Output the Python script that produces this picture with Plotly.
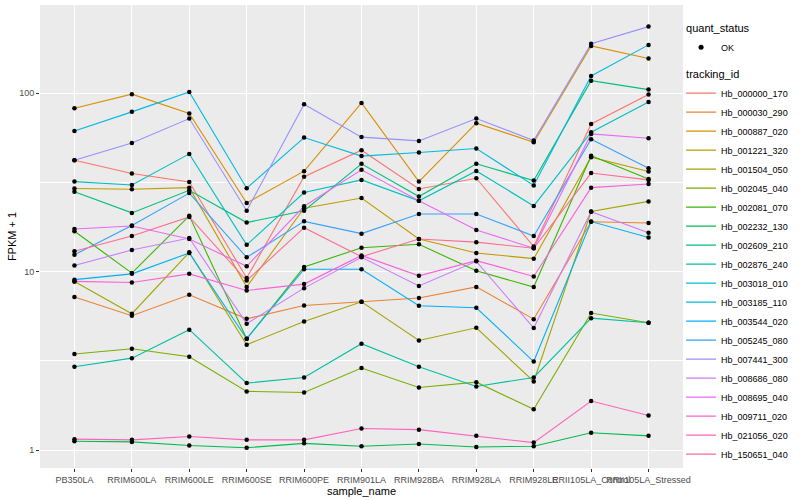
import plotly.graph_objects as go

samples = ["PB350LA", "RRIM600LA", "RRIM600LE", "RRIM600SE", "RRIM600PE", "RRIM901LA",
           "RRIM928BA", "RRIM928LA", "RRIM928LE", "RRII105LA_Control", "RRII105LA_Stressed"]

tracking_ids = ["Hb_000000_170", "Hb_000030_290", "Hb_000887_020", "Hb_001221_320", "Hb_001504_050",
                "Hb_002045_040", "Hb_002081_070", "Hb_002232_130", "Hb_002609_210", "Hb_002876_240",
                "Hb_003018_010", "Hb_003185_110", "Hb_003544_020", "Hb_005245_080", "Hb_007441_300",
                "Hb_008686_080", "Hb_008695_040", "Hb_009711_020", "Hb_021056_020", "Hb_150651_040"]

# FPKM + 1 values per tracking id, in sample order
hb_000000_170 = [42.0, 35.4, 31.7, 9.2, 34.0, 47.8, 29.0, 33.3, 13.8, 67.1, 98.0]
hb_000030_290 = [7.2, 5.65, 7.4, 5.43, 6.45, 6.77, 7.1, 8.2, 5.41, 19.0, 18.7]
hb_000887_020 = [82.2, 98.5, 76.7, 24.2, 36.5, 88.0, 31.9, 67.8, 53.0, 183.6, 156.0]
hb_001221_320 = [29.2, 28.9, 29.5, 8.2, 22.6, 25.8, 15.2, 12.7, 11.8, 43.7, 36.3]
hb_001504_050 = [8.8, 5.8, 12.8, 3.89, 5.25, 6.77, 4.11, 4.84, 2.42, 21.7, 24.7]
hb_002045_040 = [3.45, 3.69, 3.33, 2.13, 2.10, 2.88, 2.24, 2.40, 1.69, 5.85, 5.16]
hb_002081_070 = [16.8, 9.8, 20.5, 4.2, 10.6, 13.6, 14.2, 10.1, 8.18, 44.5, 33.0]
hb_002232_130 = [1.12, 1.11, 1.06, 1.03, 1.09, 1.05, 1.08, 1.04, 1.05, 1.25, 1.20]
hb_002609_210 = [28.0, 21.3, 28.5, 18.8, 21.9, 40.1, 26.3, 40.1, 32.3, 117.3, 104.5]
hb_002876_240 = [2.93, 3.27, 4.72, 2.37, 2.55, 3.94, 2.93, 2.27, 2.55, 5.48, 5.16]
hb_003018_010 = [31.9, 30.5, 45.6, 14.1, 27.7, 32.6, 24.9, 36.6, 23.3, 60.3, 89.1]
hb_003185_110 = [61.3, 78.4, 101.4, 29.3, 56.3, 44.3, 46.4, 48.9, 30.3, 124.6, 186.0]
hb_003544_020 = [9.0, 9.7, 12.7, 4.2, 10.3, 10.3, 6.43, 6.26, 3.13, 19.05, 15.5]
hb_005245_080 = [12.4, 18.1, 27.5, 12.0, 19.1, 16.3, 21.0, 21.0, 15.8, 55.1, 37.9]
hb_007441_300 = [42.0, 52.4, 71.9, 21.9, 86.5, 56.6, 53.9, 71.9, 54.2, 189.0, 235.5]
hb_008686_080 = [10.8, 13.2, 15.4, 5.1, 8.07, 12.0, 8.3, 11.4, 4.82, 21.6, 16.5]
hb_008695_040 = [17.3, 18.0, 15.2, 10.7, 23.2, 37.1, 24.9, 17.1, 13.5, 59.0, 55.8]
hb_009711_020 = [8.8, 8.68, 9.7, 7.83, 8.5, 12.3, 9.46, 11.5, 9.38, 29.5, 30.9]
hb_021056_020 = [1.15, 1.14, 1.19, 1.14, 1.14, 1.32, 1.30, 1.20, 1.10, 1.88, 1.56]
hb_150651_040 = [13.0, 15.8, 20.2, 8.9, 17.6, 12.1, 15.2, 14.6, 13.5, 35.6, 32.6]

series_values = [hb_000000_170, hb_000030_290, hb_000887_020, hb_001221_320, hb_001504_050,
                 hb_002045_040, hb_002081_070, hb_002232_130, hb_002609_210, hb_002876_240,
                 hb_003018_010, hb_003185_110, hb_003544_020, hb_005245_080, hb_007441_300,
                 hb_008686_080, hb_008695_040, hb_009711_020, hb_021056_020, hb_150651_040]

colors = ["#F8766D", "#EA8331", "#D89000", "#C09B00", "#A3A500", "#7CAE00", "#39B600", "#00BB4E",
          "#00BF7D", "#00C1A3", "#00BFC4", "#00BAE0", "#00B0F6", "#35A2FF", "#9590FF", "#C77CFF",
          "#E76BF3", "#FA62DB", "#FF62BC", "#FF6C91"]

y_ticks = [1, 10, 100]
y_tick_labels = ["1", "10", "100"]
y_minor = [10 ** 0.5, 10 ** 1.5, 10 ** 2.5]

FONT = "Liberation Sans, Arial, sans-serif"

fig = go.Figure()

# legend entry for quant_status
fig.add_trace(go.Scatter(x=[None], y=[None], mode="markers", name="OK",
                         marker=dict(color="black", size=5),
                         legendgroup="qs", legendgrouptitle=dict(text="quant_status")))

for i, (tid, vals, col) in enumerate(zip(tracking_ids, series_values, colors)):
    fig.add_trace(go.Scatter(
        x=samples, y=vals, mode="lines", name=tid,
        line=dict(color=col, width=1.1),
        legendgroup="tid",
        legendgrouptitle=dict(text="tracking_id") if i == 0 else None,
        hoverinfo="x+y+name"))

all_x = [s for _ in series_values for s in samples]
all_y = [v for vals in series_values for v in vals]
fig.add_trace(go.Scatter(x=all_x, y=all_y, mode="markers", showlegend=False,
                         marker=dict(color="black", size=4.5)))

fig.update_layout(
    width=800, height=500,
    margin=dict(l=40, r=117, t=5, b=32, autoexpand=False),
    paper_bgcolor="white", plot_bgcolor="#EBEBEB",
    font=dict(family=FONT, size=9, color="#4D4D4D"),
    legend=dict(x=0.997, y=0.49, xanchor="left", yanchor="middle",
                traceorder="grouped", tracegroupgap=8,
                font=dict(family=FONT, size=9, color="black"),
                grouptitlefont=dict(family=FONT, size=11, color="black"),
                itemwidth=30, bgcolor="rgba(0,0,0,0)"),
    showlegend=True,
)

fig.update_xaxes(
    type="category", categoryorder="array", categoryarray=samples,
    range=[-0.6, len(samples) - 0.4],
    showgrid=True, gridcolor="white", gridwidth=1.1,
    ticks="outside", ticklen=3, tickcolor="#333333", tickwidth=1,
    tickangle=0, tickfont=dict(size=9, color="#4D4D4D"),
    title=dict(text="sample_name", font=dict(size=11, color="black"), standoff=0),
    zeroline=False, showline=False,
)

fig.update_yaxes(
    type="log", range=[-0.1008, 2.493],
    tickvals=y_ticks, ticktext=y_tick_labels,
    showgrid=True, gridcolor="white", gridwidth=1.1,
    minor=dict(tickvals=y_minor, showgrid=True, gridcolor="white", gridwidth=0.5, ticks=""),
    ticks="outside", ticklen=3, tickcolor="#333333", tickwidth=1,
    tickfont=dict(size=9, color="#4D4D4D"),
    title=dict(text="FPKM + 1", font=dict(size=11, color="black"), standoff=0),
    zeroline=False, showline=False,
)

fig.write_html("out.html", config={"displayModeBar": False},
               post_script="document.body.style.margin='0';")
